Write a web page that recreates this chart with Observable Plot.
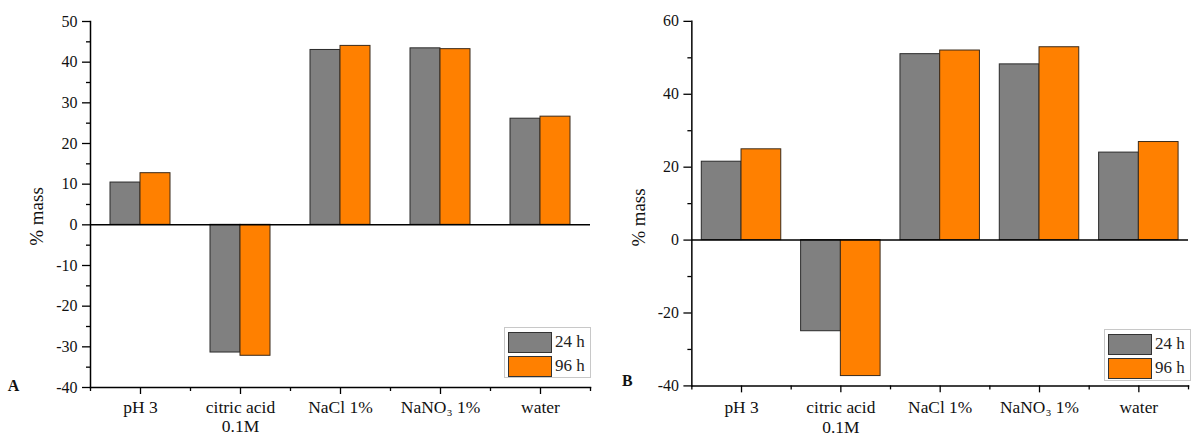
<!DOCTYPE html>
<html>
<head>
<meta charset="utf-8">
<script src="https://cdn.jsdelivr.net/npm/d3@7"></script>
<script src="https://cdn.jsdelivr.net/npm/@observablehq/plot@0.6"></script>
<style>
  html, body { margin: 0; padding: 0; background: #fff; overflow: hidden; }
  #wrap { position: relative; width: 1191px; height: 433px; overflow: hidden; font-family: "Liberation Serif", "DejaVu Serif", serif; }
  .panel { position: absolute; top: 0; }
  .legend { position: absolute; border: 1px solid #c8c8c8; background: #fff; padding: 2px 3px; box-sizing: border-box; }
  .legend .row { display: flex; align-items: center; height: 24px; }
  .legend .sw { width: 44px; height: 21px; border: 1px solid #333; box-sizing: border-box; margin-right: 3px; }
  .legend .lb { font-size: 17px; color: #222; white-space: nowrap; }
</style>
</head>
<body>
<div id="wrap">
  <div id="pA" class="panel" style="left:0px"></div>
  <div id="pB" class="panel" style="left:595px"></div>
</div>
<script>
// ---- data ----
const categories = ["pH 3", "citric acid\n0.1M", "NaCl 1%", "NaNO\u2083 1%", "water"];
const series = ["24 h", "96 h"];
const colors = ["#808080", "#ff8000"];
const panelA24 = [10.4, -31.4, 43.0, 43.4, 26.1];
const panelA96 = [12.7, -32.2, 44.0, 43.2, 26.6];
const panelB24 = [21.5, -25.0, 51.0, 48.2, 24.0];
const panelB96 = [24.9, -37.3, 52.0, 52.9, 26.9];
const yTicksA = [-40, -30, -20, -10, 0, 10, 20, 30, 40, 50];
const yMinorA = [-35, -25, -15, -5, 5, 15, 25, 35, 45];
const yTicksB = [-40, -20, 0, 20, 40, 60];
const yMinorB = [-30, -10, 10, 30, 50];
const yLabel = "% mass";

const font = '"Liberation Serif", "DejaVu Serif", serif';

function rows(vals) { return categories.map((c, i) => ({cat: c, v: vals[i]})); }

function panel({v24, v96, domain, ticks, minor, letter, width, ml, mr, mb, barInner, barOuter, letterDx, letterDy, labelDx, labelDy, tickPad}) {
  const stepPx = (width - ml - mr) / categories.length;
  const minorLen = 4 * (domain[1] - domain[0]) / (433 - 21 - mb);
  return Plot.plot({
    width, height: 433,
    marginLeft: ml, marginRight: mr, marginTop: 21, marginBottom: mb,
    style: {fontFamily: font, fontSize: "16px", color: "#111", background: "transparent", overflow: "visible"},
    x: {domain: categories, padding: 0, axis: null},
    y: {domain, axis: null},
    marks: [
      Plot.barY(rows(v24), {x: "cat", y: "v", fill: colors[0], stroke: "#2a2a2a", strokeWidth: 1, insetLeft: barOuter, insetRight: barInner}),
      Plot.barY(rows(v96), {x: "cat", y: "v", fill: colors[1], stroke: "#3a2a1a", strokeWidth: 1, insetLeft: barInner, insetRight: barOuter}),
      Plot.ruleY([0], {stroke: "#000", strokeWidth: 1.5}),
      Plot.frame({anchor: "left", stroke: "#000", strokeWidth: 1.5}),
      Plot.frame({anchor: "bottom", stroke: "#000", strokeWidth: 1.5}),
      Plot.axisY({ticks, tickSize: 8, tickPadding: 5, tickFormat: d => String(d), label: null, fontSize: "16px", stroke: "#000", strokeWidth: 1.3}),
      Plot.axisY({ticks: minor, tickSize: 4, tickFormat: () => "", label: null, stroke: "#000", strokeWidth: 1.3}),
      Plot.axisX({tickSize: 7, tickPadding: tickPad, label: null, fontSize: "17.5px", lineHeight: 1.1, stroke: "#000", strokeWidth: 1.3}),
      Plot.ruleX(categories, {x: d => d, y1: domain[0], y2: domain[0] - minorLen, dx: -stepPx / 2, stroke: "#000", strokeWidth: 1.3, clip: false}),
      Plot.ruleX(categories.slice(-1), {x: d => d, y1: domain[0], y2: domain[0] - minorLen, dx: stepPx / 2, stroke: "#000", strokeWidth: 1.3}),
      Plot.text([yLabel], {frameAnchor: "left", text: d => d, rotate: -90, textAnchor: "middle", dx: labelDx, dy: labelDy, fontSize: "19px", fill: "#111"}),
      Plot.text([letter], {frameAnchor: "bottom-left", text: d => d, textAnchor: "middle", dx: letterDx, dy: letterDy, fontSize: "16px", fontWeight: "bold", fill: "#111"})
    ]
  });
}

document.getElementById("pA").append(panel({
  v24: panelA24, v96: panelA96, domain: [-40, 50], ticks: yTicksA, minor: yMinorA, letter: "A",
  width: 595, ml: 90, mr: 5, mb: 46, barInner: 50, barOuter: 20, letterDx: -77, letterDy: 3,
  labelDx: -54, labelDy: 12, tickPad: 5
}));
document.getElementById("pB").append(panel({
  v24: panelB24, v96: panelB96, domain: [-40, 60], ticks: yTicksB, minor: yMinorB, letter: "B",
  width: 600, ml: 97, mr: 3, mb: 45, barInner: 50, barOuter: 10, letterDx: -65, letterDy: 0,
  labelDx: -53, labelDy: 14, tickPad: 7
}));

function legend(left, top, w, h) {
  const d = document.createElement("div");
  d.className = "legend";
  d.style.left = left + "px"; d.style.top = top + "px";
  d.style.width = w + "px"; d.style.height = h + "px";
  series.forEach((s, i) => {
    const r = document.createElement("div"); r.className = "row";
    const sw = document.createElement("div"); sw.className = "sw"; sw.style.background = colors[i];
    const lb = document.createElement("span"); lb.className = "lb"; lb.textContent = s;
    r.append(sw, lb); d.append(r);
  });
  document.getElementById("wrap").append(d);
}
legend(504, 327, 87, 51);
legend(1104, 329, 87, 52);
</script>
</body>
</html>
